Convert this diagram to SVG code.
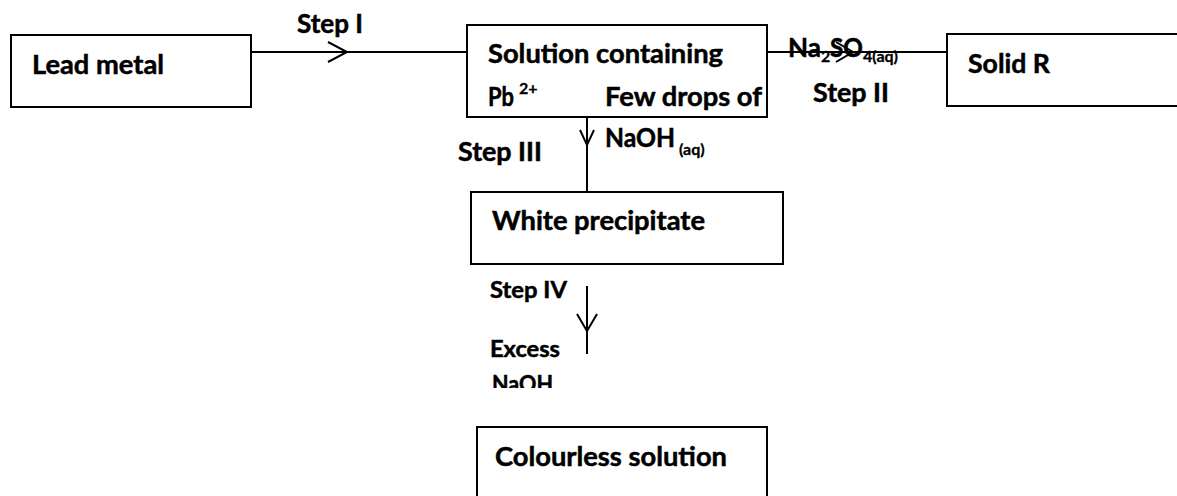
<svg xmlns="http://www.w3.org/2000/svg" width="1177" height="496" viewBox="0 0 1177 496">
<style>
.box{fill:#fff;stroke:#000;stroke-width:2}
.ln{fill:none;stroke:#000;stroke-width:2}
.t{font-family:Lato,"Open Sans","Liberation Sans",sans-serif;font-weight:700;font-size:27px;fill:#000;stroke:#000;stroke-width:0.5}
.m{font-size:23px}
.s{font-size:16px;stroke-width:0.3}
</style>
<defs>
<clipPath id="cut"><rect x="0" y="0" width="1177" height="388"/></clipPath>
</defs>
<rect width="1177" height="496" fill="#fff"/>
<g id="connectors">
<line class="ln" x1="251" y1="52" x2="467" y2="52"/>
<polyline class="ln" points="328,42 347,52 328,62"/>
<line class="ln" x1="767" y1="52" x2="947" y2="52"/>
<polyline class="ln" points="836,42 853,52 836,62"/>
<line class="ln" x1="587" y1="102" x2="587" y2="192"/>
<polyline class="ln" points="580,130 587,145 594,130"/>
<line class="ln" x1="587" y1="286" x2="587" y2="354"/>
<polyline class="ln" points="577,314 587,331 597,314"/>
</g>
<g id="lead-metal">
<rect class="box" x="11" y="35" width="240" height="72"/>
<text class="t" x="32" y="74" textLength="132" lengthAdjust="spacingAndGlyphs">Lead metal</text>
</g>
<g id="solution">
<rect class="box" x="467" y="25" width="300" height="92"/>
<text class="t" x="488" y="106" textLength="26" lengthAdjust="spacingAndGlyphs">Pb</text>
<text class="t s" x="519" y="94">2+</text>
<text class="t" x="488" y="63" textLength="235" lengthAdjust="spacingAndGlyphs">Solution containing</text>
</g>
<g id="solid-r">
<rect class="box" x="947" y="34" width="240" height="72"/>
<text class="t" x="968" y="73" textLength="82" lengthAdjust="spacingAndGlyphs">Solid R</text>
</g>
<g id="white-precipitate">
<rect class="box" x="471" y="192" width="312" height="72"/>
<text class="t" x="492" y="230" textLength="213" lengthAdjust="spacingAndGlyphs">White precipitate</text>
</g>
<g id="colourless-solution">
<rect class="box" x="477" y="427" width="290" height="100"/>
<text class="t" x="495" y="466" textLength="232" lengthAdjust="spacingAndGlyphs">Colourless solution</text>
</g>
<g id="labels">
<text class="t" x="297" y="33" textLength="66" lengthAdjust="spacingAndGlyphs">Step I</text>
<text class="t" x="605" y="106" textLength="157" lengthAdjust="spacingAndGlyphs">Few drops of</text>
<text class="t" x="605" y="147" textLength="70" lengthAdjust="spacingAndGlyphs">NaOH</text>
<text class="t s" x="679" y="155">(aq)</text>
<text class="t" x="458" y="161" textLength="84" lengthAdjust="spacingAndGlyphs">Step III</text>
<text class="t" x="788" y="57" textLength="33" lengthAdjust="spacingAndGlyphs">Na</text>
<text class="t s" x="821" y="62">2</text>
<text class="t" x="830" y="57" textLength="33" lengthAdjust="spacingAndGlyphs">SO</text>
<text class="t s" x="863" y="62">4(aq)</text>
<text class="t" x="813" y="102" textLength="76" lengthAdjust="spacingAndGlyphs">Step II</text>
<text class="t m" x="490" y="298" textLength="77" lengthAdjust="spacingAndGlyphs">Step IV</text>
<text class="t m" x="490" y="357" textLength="70" lengthAdjust="spacingAndGlyphs">Excess</text>
<text class="t m" x="492" y="392" textLength="61" lengthAdjust="spacingAndGlyphs" clip-path="url(#cut)">NaOH</text>
</g>
</svg>
